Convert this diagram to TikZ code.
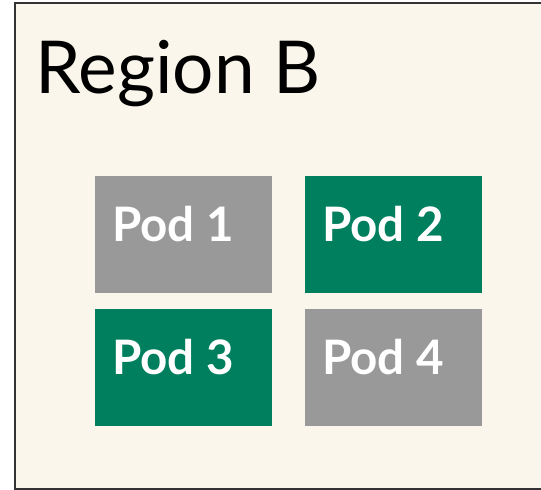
\documentclass[tikz,border=0pt]{standalone}
\usepackage{fontspec}
\setmainfont{Lato}
\usepackage{tikz}
\usetikzlibrary{positioning}

\definecolor{regionbg}{HTML}{FAF6EC}
\definecolor{podgray}{HTML}{999999}
\definecolor{podgreen}{HTML}{007F5F}

\begin{document}
\begin{tikzpicture}[x=1pt, y=-1pt,
  pod/.style = {rectangle, draw=none, anchor=north west, inner sep=0,
                minimum width=177pt, minimum height=117pt},
  podlabel/.style = {anchor=base west, inner sep=0, text=white,
                     font=\fontsize{47.5}{57}\selectfont\bfseries}]
\useasboundingbox (0,0) rectangle (541,490);
\clip (0,0) rectangle (541,490);

% region frame
\draw[fill=regionbg, draw=black!80, line width=1.3pt] (15,3) rectangle (560,489);
\node[anchor=base west, inner sep=0, font=\fontsize{73}{88}\selectfont] (region) at (35,93) {Region B};

% pods
\node[pod, fill=podgray]  (pod1) at (95,176) {};
\node[pod, fill=podgreen] (pod2) at (305,176) {};
\node[pod, fill=podgreen] (pod3) at (95,309) {};
\node[pod, fill=podgray]  (pod4) at (305,309) {};

\node[podlabel] (lab1) at ([xshift=17pt, yshift=-65pt]pod1.north west) {Pod 1};
\node[podlabel] (lab2) at ([xshift=17pt, yshift=-65pt]pod2.north west) {Pod 2};
\node[podlabel] (lab3) at ([xshift=17pt, yshift=-65pt]pod3.north west) {Pod 3};
\node[podlabel] (lab4) at ([xshift=17pt, yshift=-65pt]pod4.north west) {Pod 4};

\end{tikzpicture}
\end{document}
